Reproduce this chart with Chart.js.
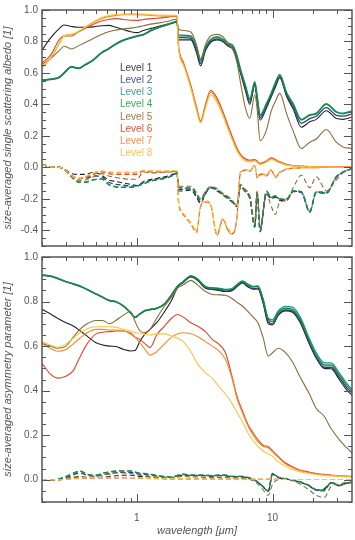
<!DOCTYPE html>
<html>
<head>
<meta charset="utf-8">
<script src="https://cdn.jsdelivr.net/npm/chart.js@4.4.0/dist/chart.umd.min.js"></script>
<style>
  body { margin: 0; width: 355px; height: 540px; background: #fff; position: relative; overflow: hidden; }
  .box { position: absolute; left: 0; width: 355px; }
  #legend { position: absolute; left: 120px; top: 62px; font: 10px "Liberation Sans", Arial, sans-serif; line-height: 12.15px; }
</style>
</head>
<body>
<div class="box" style="top:0;height:256px"><canvas id="albedo"></canvas></div>
<div class="box" style="top:246px;height:294px"><canvas id="asym"></canvas></div>
<div id="legend"></div>
<script>
// levels and colours
const levels = ['Level 1', 'Level 2', 'Level 3', 'Level 4', 'Level 5', 'Level 6', 'Level 7', 'Level 8'];
const lineColors = ['#20232e', '#2c3d7a', '#1b9a8a', '#188a3e', '#8b6d3a', '#e0452a', '#f08c28', '#f7c63a'];
const textColors = ['#3c3c4a', '#4a5590', '#40a090', '#40a855', '#9c7c48', '#e0503c', '#ee9450', '#f5c450'];

// axis ticks
const xTickVals = [0.2, 0.3, 0.4, 0.5, 0.6, 0.7, 0.8, 0.9, 1, 2, 3, 4, 5, 6, 7, 8, 9, 10, 20, 30];
const xLabelVals = [1, 10];
const yTopTicks = [-0.4, -0.2, 0, 0.2, 0.4, 0.6, 0.8, 1.0];
const yBotTicks = [0, 0.2, 0.4, 0.6, 0.8, 1.0];

// wavelengths [um], top panel
const wlTop = [0.2,0.23,0.27,0.29,0.33,0.37,0.42,0.48,0.55,0.62,
  0.7,0.8,0.9,1.0,1.12,1.3,1.5,1.7,1.9,1.98,
  2.02,2.2,2.5,2.75,2.95,3.2,3.5,3.9,4.3,4.7,
  5.1,5.45,5.8,6.3,6.8,7.4,7.7,8.1,9.0,9.8,
  10.5,11.3,12.7,14.2,16.3,18.8,21,24.9,29.5,33,
  38.5];

// single scattering albedo (solid)
const alb1 = [0.745,0.82,0.885,0.905,0.895,0.89,0.89,0.893,0.90,0.902,
  0.89,0.875,0.862,0.856,0.87,0.885,0.90,0.91,0.92,0.925,
  0.81,0.81,0.81,0.73,0.645,0.74,0.795,0.81,0.80,0.77,
  0.75,0.69,0.60,0.49,0.40,0.52,0.42,0.30,0.375,0.45,
  0.51,0.57,0.45,0.37,0.255,0.29,0.305,0.36,0.31,0.305,
  0.32];
const alb2 = [0.552,0.557,0.572,0.597,0.637,0.627,0.652,0.682,0.727,0.752,
  0.782,0.807,0.822,0.832,0.842,0.872,0.892,0.907,0.922,0.927,
  0.825,0.825,0.82,0.745,0.66,0.75,0.80,0.815,0.80,0.775,
  0.76,0.70,0.605,0.505,0.415,0.53,0.435,0.315,0.39,0.46,
  0.52,0.575,0.46,0.385,0.28,0.31,0.325,0.38,0.33,0.325,
  0.34];
const alb3 = [0.555,0.56,0.575,0.60,0.64,0.63,0.655,0.685,0.73,0.755,
  0.785,0.81,0.825,0.835,0.845,0.875,0.895,0.91,0.925,0.93,
  0.84,0.84,0.835,0.765,0.68,0.765,0.815,0.83,0.815,0.79,
  0.775,0.715,0.625,0.525,0.435,0.545,0.455,0.335,0.405,0.475,
  0.54,0.59,0.475,0.405,0.305,0.335,0.345,0.405,0.355,0.345,
  0.36];
const alb4 = [0.555,0.56,0.575,0.60,0.64,0.63,0.655,0.685,0.73,0.755,
  0.785,0.81,0.825,0.835,0.845,0.875,0.895,0.91,0.925,0.93,
  0.835,0.835,0.83,0.76,0.675,0.76,0.81,0.825,0.81,0.785,
  0.77,0.71,0.62,0.52,0.43,0.54,0.45,0.33,0.40,0.47,
  0.535,0.585,0.47,0.40,0.30,0.33,0.34,0.40,0.35,0.34,
  0.355];
const alb5 = [0.655,0.69,0.745,0.77,0.752,0.772,0.795,0.82,0.845,0.862,
  0.872,0.88,0.885,0.89,0.90,0.912,0.92,0.928,0.94,0.94,
  0.88,0.87,0.86,0.78,0.69,0.78,0.835,0.845,0.83,0.79,
  0.75,0.67,0.54,0.38,0.31,0.46,0.37,0.17,0.235,0.36,
  0.42,0.47,0.34,0.23,0.12,0.16,0.18,0.24,0.16,0.13,
  0.12];
const alb6 = [0.665,0.71,0.815,0.835,0.835,0.86,0.885,0.91,0.93,0.94,
  0.945,0.94,0.935,0.934,0.94,0.945,0.95,0.955,0.96,0.955,
  0.79,0.67,0.52,0.385,0.295,0.40,0.49,0.44,0.355,0.265,
  0.185,0.125,0.085,0.055,0.045,0.05,0.04,0.025,0.04,0.06,
  0.05,0.035,0.02,0.012,0.008,0.005,0.004,0.003,0.002,0.002,
  0.001];
const alb7 = [0.635,0.69,0.79,0.835,0.845,0.86,0.89,0.92,0.945,0.958,
  0.965,0.97,0.97,0.97,0.968,0.965,0.962,0.96,0.962,0.96,
  0.78,0.66,0.51,0.375,0.29,0.39,0.478,0.425,0.34,0.25,
  0.17,0.115,0.077,0.046,0.04,0.046,0.035,0.02,0.035,0.055,
  0.045,0.03,0.015,0.01,0.006,0.004,0.003,0.002,0.002,0.001,
  0.001];
const alb8 = [0.64,0.695,0.79,0.835,0.845,0.865,0.895,0.925,0.952,0.965,
  0.972,0.975,0.976,0.976,0.974,0.97,0.968,0.966,0.966,0.965,
  0.77,0.65,0.50,0.36,0.28,0.375,0.46,0.41,0.33,0.24,
  0.165,0.105,0.07,0.04,0.035,0.04,0.03,0.018,0.032,0.05,
  0.04,0.027,0.013,0.008,0.005,0.003,0.002,0.002,0.001,0.001,
  0.001];

// albedo dashed curves
const dAlb1 = [0.02,0.003,0.0,-0.01,-0.04,-0.045,-0.045,-0.03,-0.05,-0.08,
  -0.09,-0.10,-0.108,-0.115,-0.09,-0.075,-0.065,-0.055,-0.04,-0.035,
  -0.15,-0.15,-0.145,-0.19,-0.23,-0.17,-0.13,-0.15,-0.175,-0.20,
  -0.225,-0.25,-0.125,-0.155,-0.20,-0.38,-0.17,-0.41,-0.17,-0.20,
  -0.19,-0.21,-0.21,-0.155,-0.16,-0.285,-0.16,-0.165,-0.065,-0.032,
  -0.008];
const dAlb2 = [0.02,0.003,0.0,-0.01,-0.05,-0.07,-0.07,-0.055,-0.06,-0.095,
  -0.108,-0.114,-0.118,-0.118,-0.098,-0.08,-0.07,-0.06,-0.042,-0.035,
  -0.14,-0.14,-0.138,-0.18,-0.22,-0.165,-0.128,-0.145,-0.172,-0.195,
  -0.222,-0.248,-0.12,-0.152,-0.195,-0.375,-0.165,-0.405,-0.165,-0.195,
  -0.185,-0.205,-0.205,-0.152,-0.158,-0.282,-0.158,-0.162,-0.062,-0.031,
  -0.008];
const dAlb3 = [0.02,0.003,0.0,-0.01,-0.058,-0.092,-0.092,-0.078,-0.073,-0.108,
  -0.123,-0.126,-0.126,-0.119,-0.103,-0.084,-0.074,-0.064,-0.044,-0.035,
  -0.128,-0.132,-0.132,-0.172,-0.212,-0.162,-0.126,-0.142,-0.171,-0.191,
  -0.221,-0.246,-0.117,-0.151,-0.192,-0.372,-0.162,-0.402,-0.155,-0.19,
  -0.182,-0.202,-0.202,-0.15,-0.156,-0.28,-0.156,-0.16,-0.06,-0.03,
  -0.008];
const dAlb4 = [0.02,0.003,0.0,-0.01,-0.06,-0.095,-0.095,-0.08,-0.075,-0.11,
  -0.125,-0.128,-0.128,-0.12,-0.105,-0.085,-0.075,-0.065,-0.045,-0.035,
  -0.125,-0.13,-0.13,-0.17,-0.21,-0.16,-0.125,-0.14,-0.17,-0.19,
  -0.22,-0.245,-0.115,-0.15,-0.19,-0.37,-0.16,-0.40,-0.15,-0.19,
  -0.18,-0.20,-0.20,-0.15,-0.155,-0.28,-0.155,-0.16,-0.06,-0.03,
  -0.008];
const dAlb5 = [0.02,0.003,0.0,-0.01,-0.06,-0.085,-0.08,-0.06,-0.04,-0.055,
  -0.065,-0.072,-0.076,-0.075,-0.03,-0.035,-0.032,-0.03,-0.03,-0.03,
  -0.12,-0.12,-0.12,-0.16,-0.20,-0.15,-0.12,-0.135,-0.165,-0.185,
  -0.215,-0.24,-0.11,-0.14,-0.18,-0.35,-0.15,-0.38,-0.17,-0.25,
  -0.30,-0.22,-0.21,-0.13,-0.05,-0.13,-0.06,-0.15,-0.08,-0.035,
  -0.008];
const dAlb6 = [0.02,0.003,0.0,-0.01,-0.055,-0.075,-0.065,-0.045,-0.03,-0.04,
  -0.045,-0.045,-0.045,-0.045,-0.025,-0.03,-0.03,-0.03,-0.025,-0.028,
  -0.21,-0.30,-0.36,-0.41,-0.25,-0.22,-0.24,-0.43,-0.33,-0.40,
  -0.42,-0.33,-0.035,-0.02,-0.025,0.01,-0.07,-0.045,-0.055,-0.02,
  -0.065,-0.035,-0.012,-0.006,-0.003,-0.002,-0.002,-0.001,-0.001,0.0,
  0.0];
const dAlb7 = [0.02,0.003,0.0,-0.01,-0.055,-0.075,-0.06,-0.04,-0.025,-0.032,
  -0.035,-0.035,-0.035,-0.035,-0.02,-0.025,-0.025,-0.025,-0.022,-0.025,
  -0.20,-0.30,-0.36,-0.415,-0.25,-0.22,-0.24,-0.435,-0.33,-0.405,
  -0.425,-0.33,-0.03,-0.015,-0.02,0.015,-0.065,-0.04,-0.05,-0.015,
  -0.06,-0.03,-0.01,-0.005,-0.003,-0.002,-0.002,-0.001,-0.001,0.0,
  0.0];
const dAlb8 = [0.02,0.003,0.0,-0.01,-0.05,-0.07,-0.055,-0.035,-0.022,-0.028,
  -0.03,-0.03,-0.03,-0.03,-0.018,-0.022,-0.022,-0.022,-0.02,-0.022,
  -0.19,-0.29,-0.35,-0.40,-0.24,-0.21,-0.23,-0.42,-0.32,-0.39,
  -0.41,-0.32,-0.025,-0.012,-0.018,0.012,-0.06,-0.035,-0.045,-0.012,
  -0.055,-0.028,-0.009,-0.004,-0.003,-0.002,-0.001,-0.001,0.0,0.0,
  0.0];

// wavelengths [um], bottom panel
const wlBot = [0.2,0.23,0.26,0.3,0.34,0.38,0.43,0.5,0.56,0.63,
  0.7,0.8,0.9,0.97,1.05,1.15,1.25,1.4,1.6,1.8,
  2.0,2.2,2.5,2.8,3.2,3.6,4.0,4.5,5.0,5.5,
  6.0,6.6,7.2,7.8,8.5,9.3,10,11,12.5,14,
  16,18.5,21,24,27,31,35,38.5];

// asymmetry parameter (solid)
const asy1 = [0.765,0.745,0.725,0.705,0.69,0.67,0.645,0.615,0.605,0.60,
  0.598,0.585,0.578,0.58,0.62,0.655,0.675,0.705,0.755,0.805,
  0.865,0.885,0.91,0.895,0.86,0.854,0.85,0.845,0.848,0.868,
  0.883,0.865,0.855,0.856,0.795,0.70,0.695,0.738,0.758,0.752,
  0.705,0.615,0.545,0.50,0.498,0.45,0.405,0.38];
const asy2 = [0.918,0.913,0.903,0.888,0.878,0.868,0.853,0.833,0.818,0.803,
  0.798,0.778,0.748,0.728,0.743,0.758,0.763,0.768,0.788,0.828,
  0.868,0.888,0.912,0.897,0.862,0.856,0.853,0.847,0.85,0.87,
  0.885,0.868,0.858,0.86,0.80,0.71,0.70,0.742,0.762,0.757,
  0.71,0.62,0.55,0.505,0.505,0.46,0.415,0.39];
const asy3 = [0.92,0.915,0.905,0.89,0.88,0.87,0.855,0.835,0.82,0.805,
  0.80,0.78,0.75,0.73,0.745,0.76,0.765,0.77,0.79,0.83,
  0.87,0.89,0.915,0.902,0.868,0.862,0.86,0.855,0.858,0.878,
  0.893,0.878,0.868,0.87,0.815,0.725,0.718,0.758,0.778,0.775,
  0.73,0.64,0.57,0.525,0.525,0.48,0.435,0.405];
const asy4 = [0.92,0.915,0.905,0.89,0.88,0.87,0.855,0.835,0.82,0.805,
  0.80,0.78,0.75,0.73,0.745,0.76,0.765,0.77,0.79,0.83,
  0.87,0.89,0.915,0.90,0.866,0.86,0.858,0.852,0.855,0.875,
  0.89,0.875,0.865,0.868,0.81,0.72,0.71,0.75,0.77,0.765,
  0.72,0.63,0.56,0.515,0.515,0.47,0.425,0.40];
const asy5 = [0.613,0.60,0.59,0.60,0.64,0.675,0.70,0.715,0.715,0.70,
  0.715,0.74,0.755,0.71,0.67,0.66,0.675,0.725,0.78,0.82,
  0.86,0.875,0.895,0.875,0.845,0.832,0.83,0.828,0.815,0.795,
  0.78,0.755,0.73,0.705,0.64,0.555,0.57,0.59,0.57,0.53,
  0.46,0.39,0.32,0.285,0.23,0.18,0.145,0.12];
const asy6 = [0.523,0.475,0.456,0.465,0.49,0.55,0.61,0.655,0.662,0.665,
  0.668,0.668,0.655,0.64,0.63,0.61,0.593,0.65,0.69,0.725,
  0.742,0.73,0.705,0.69,0.665,0.63,0.61,0.57,0.47,0.37,
  0.31,0.247,0.21,0.18,0.155,0.148,0.13,0.105,0.075,0.058,
  0.043,0.035,0.028,0.024,0.021,0.018,0.016,0.015];
const asy7 = [0.61,0.59,0.577,0.585,0.61,0.635,0.66,0.675,0.675,0.672,
  0.672,0.668,0.66,0.64,0.615,0.585,0.56,0.575,0.61,0.64,
  0.655,0.66,0.655,0.643,0.62,0.60,0.58,0.54,0.46,0.36,
  0.30,0.24,0.20,0.17,0.15,0.142,0.125,0.10,0.07,0.054,
  0.04,0.032,0.026,0.022,0.019,0.017,0.015,0.014];
const asy8 = [0.62,0.605,0.595,0.61,0.635,0.66,0.678,0.687,0.687,0.687,
  0.685,0.675,0.668,0.66,0.658,0.652,0.65,0.655,0.655,0.645,
  0.635,0.62,0.575,0.52,0.48,0.455,0.42,0.385,0.345,0.30,
  0.26,0.21,0.175,0.15,0.13,0.115,0.105,0.08,0.06,0.046,
  0.035,0.028,0.023,0.019,0.017,0.015,0.013,0.012];

// asymmetry dashed curves
const dAsy1 = [0.0,0.0,0.0,0.005,0.01,0.012,0.01,0.01,0.012,0.015,
  0.018,0.02,0.02,0.018,0.015,0.015,0.012,0.01,0.008,0.008,
  0.015,0.02,0.018,0.018,0.018,0.016,0.018,0.018,0.013,0.013,
  0.012,0.008,0.0,-0.012,-0.032,-0.052,0.025,0.01,0.003,-0.002,
  -0.012,-0.027,-0.047,-0.04,-0.014,-0.027,-0.016,-0.013];
const dAsy2 = [0.0,0.0,0.001,0.01,0.022,0.03,0.02,0.016,0.024,0.028,
  0.032,0.033,0.033,0.03,0.025,0.024,0.021,0.017,0.013,0.011,
  0.018,0.023,0.019,0.019,0.019,0.017,0.019,0.019,0.014,0.014,
  0.014,0.009,0.001,-0.011,-0.031,-0.051,0.027,0.011,0.004,-0.001,
  -0.011,-0.026,-0.046,-0.045,-0.013,-0.026,-0.015,-0.012];
const dAsy3 = [0.0,0.0,0.002,0.014,0.028,0.038,0.024,0.019,0.029,0.034,
  0.038,0.039,0.039,0.034,0.029,0.027,0.024,0.019,0.014,0.012,
  0.02,0.025,0.02,0.02,0.02,0.018,0.02,0.02,0.015,0.015,
  0.015,0.01,0.002,-0.01,-0.03,-0.05,0.028,0.012,0.005,0.0,
  -0.01,-0.025,-0.045,-0.048,-0.012,-0.025,-0.015,-0.012];
const dAsy4 = [0.0,0.0,0.002,0.015,0.03,0.04,0.025,0.02,0.03,0.035,
  0.04,0.04,0.04,0.035,0.03,0.028,0.025,0.02,0.015,0.012,
  0.02,0.025,0.02,0.02,0.02,0.018,0.02,0.02,0.015,0.015,
  0.015,0.01,0.002,-0.01,-0.03,-0.05,0.028,0.012,0.005,0.0,
  -0.01,-0.025,-0.045,-0.05,-0.012,-0.025,-0.015,-0.012];
const dAsy5 = [0.0,0.0,0.0,0.005,0.012,0.015,0.012,0.015,0.02,0.025,
  0.03,0.03,0.028,0.025,0.02,0.018,0.015,0.012,0.01,0.01,
  0.012,0.015,0.012,0.012,0.01,0.01,0.01,0.01,0.008,0.008,
  0.006,0.003,-0.005,-0.02,-0.045,-0.07,-0.02,0.0,0.002,-0.005,
  -0.02,-0.045,-0.07,-0.08,-0.03,-0.02,-0.012,-0.01];
const dAsy6 = [0.0,0.0,0.0,0.002,0.004,0.006,0.007,0.008,0.008,0.008,
  0.008,0.008,0.008,0.007,0.006,0.006,0.005,0.005,0.004,0.004,
  0.004,0.004,0.004,0.004,0.003,0.003,0.003,0.003,0.003,0.003,
  0.002,0.002,0.002,0.002,0.002,0.002,0.002,0.002,0.001,0.001,
  0.001,0.001,0.001,0.001,0.001,0.001,0.001,0.001];
const dAsy7 = [0.0,0.0,0.0,0.002,0.005,0.007,0.008,0.01,0.01,0.01,
  0.01,0.01,0.01,0.009,0.008,0.007,0.006,0.006,0.005,0.005,
  0.005,0.005,0.005,0.004,0.004,0.004,0.003,0.003,0.003,0.003,
  0.003,0.002,0.002,0.002,0.002,0.002,0.002,0.002,0.002,0.001,
  0.001,0.001,0.001,0.001,0.001,0.001,0.001,0.001];
const dAsy8 = [0.0,0.0,0.0,0.002,0.005,0.008,0.009,0.011,0.011,0.011,
  0.011,0.011,0.01,0.009,0.008,0.007,0.006,0.006,0.005,0.005,
  0.005,0.005,0.004,0.004,0.004,0.003,0.003,0.003,0.003,0.002,
  0.002,0.002,0.002,0.002,0.002,0.002,0.002,0.001,0.001,0.001,
  0.001,0.001,0.001,0.001,0.001,0.001,0.001,0.001];

Chart.defaults.font.family = '"Liberation Sans", Arial, sans-serif';
Chart.defaults.color = '#555';

function range(a, b, step) {
  const out = [];
  for (let v = a; v <= b + 1e-9; v += step) out.push(Math.round(v * 1000) / 1000);
  return out;
}

function makeSets(wl, solid, dashed) {
  const sets = [];
  dashed.forEach((s, i) => sets.push({
    label: levels[i] + ' dashed',
    data: wl.map((x, j) => ({ x: x, y: s[j] })),
    borderColor: lineColors[i],
    borderWidth: (i >= 1 && i <= 3) ? 1.3 : 1.1,
    borderDash: [5, 3],
    pointRadius: 0,
    order: 30 - i
  }));
  solid.forEach((s, i) => sets.push({
    label: levels[i],
    data: wl.map((x, j) => ({ x: x, y: s[j] })),
    borderColor: lineColors[i],
    borderWidth: (i >= 1 && i <= 3) ? 1.3 : 1.1,
    pointRadius: 0,
    order: 20 - i
  }));
  return sets;
}

// frame with inward ticks on all four sides
const boxTicks = {
  id: 'boxTicks',
  afterDatasetsDraw(chart, args, o) {
    const { ctx, chartArea: a } = chart;
    const xs = chart.scales.x, ys = chart.scales.y;
    ctx.save();
    ctx.strokeStyle = '#555';
    ctx.lineWidth = 1;
    ctx.beginPath();
    xTickVals.forEach(v => {
      const p = Math.round(xs.getPixelForValue(v)) + 0.5;
      const len = xLabelVals.includes(v) ? 8 : 4;
      ctx.moveTo(p, a.bottom); ctx.lineTo(p, a.bottom - len);
      ctx.moveTo(p, a.top); ctx.lineTo(p, a.top + len);
    });
    o.yMinor.forEach(v => {
      const p = Math.round(ys.getPixelForValue(v)) + 0.5;
      const len = o.yMajor.some(m => Math.abs(m - v) < 1e-6) ? 8 : 4;
      ctx.moveTo(a.left, p); ctx.lineTo(a.left + len, p);
      ctx.moveTo(a.right, p); ctx.lineTo(a.right - len, p);
    });
    ctx.stroke();
    ctx.lineWidth = 1.5;
    ctx.strokeRect(a.left, a.top, a.right - a.left, a.bottom - a.top);
    ctx.restore();
  }
};

function yAxis(min, max, ticks, title) {
  return {
    type: 'linear', min: min, max: max,
    grid: { display: false, drawTicks: false },
    border: { display: false },
    afterBuildTicks: s => { s.ticks = ticks.map(v => ({ value: v })); },
    afterFit: s => { s.width = 42; },
    ticks: { padding: 4, font: { size: 10 }, color: '#555', callback: v => Number(v).toFixed(1) },
    title: { display: true, text: title, color: '#555', font: { size: 11, style: 'italic' }, padding: { top: 1, bottom: 0 } }
  };
}

new Chart(document.getElementById('albedo'), {
  type: 'line',
  data: {
    datasets: makeSets(wlTop,
      [alb1, alb2, alb3, alb4, alb5, alb6, alb7, alb8],
      [dAlb1, dAlb2, dAlb3, dAlb4, dAlb5, dAlb6, dAlb7, dAlb8])
  },
  options: {
    responsive: true, maintainAspectRatio: false, animation: false,
    layout: { padding: { top: 10, bottom: 2, left: 0, right: 3 } },
    elements: { line: { tension: 0, cubicInterpolationMode: 'monotone' } },
    plugins: {
      legend: { display: false }, tooltip: { enabled: false },
      boxTicks: { yMajor: yTopTicks, yMinor: range(-0.5, 1.0, 0.05) }
    },
    scales: {
      x: { type: 'logarithmic', min: 0.2, max: 38.5, display: false,
           afterBuildTicks: s => { s.ticks = xTickVals.map(v => ({ value: v })); } },
      y: yAxis(-0.5, 1.0, yTopTicks, 'size-averaged single scattering albedo [1]')
    }
  },
  plugins: [boxTicks]
});

new Chart(document.getElementById('asym'), {
  type: 'line',
  data: {
    datasets: makeSets(wlBot,
      [asy1, asy2, asy3, asy4, asy5, asy6, asy7, asy8],
      [dAsy1, dAsy2, dAsy3, dAsy4, dAsy5, dAsy6, dAsy7, dAsy8])
  },
  options: {
    responsive: true, maintainAspectRatio: false, animation: false,
    layout: { padding: { top: 11, bottom: 0, left: 0, right: 3 } },
    elements: { line: { tension: 0, cubicInterpolationMode: 'monotone' } },
    plugins: {
      legend: { display: false }, tooltip: { enabled: false },
      boxTicks: { yMajor: yBotTicks, yMinor: range(-0.1, 1.0, 0.05) }
    },
    scales: {
      x: {
        type: 'logarithmic', min: 0.2, max: 38.5,
        grid: { display: false, drawTicks: false },
        border: { display: false },
        afterBuildTicks: s => { s.ticks = xTickVals.map(v => ({ value: v })); },
        afterFit: s => { s.height = 38; },
        ticks: { autoSkip: false, maxRotation: 0, padding: 10, font: { size: 10 }, color: '#555',
                 callback: v => xLabelVals.includes(Number(v)) ? String(v) : '' },
        title: { display: true, text: 'wavelength [\u03bcm]', color: '#555', font: { size: 11, style: 'italic' }, padding: { top: 0, bottom: 2 } }
      },
      y: yAxis(-0.1, 1.0, yBotTicks, 'size-averaged asymmetry parameter [1]')
    }
  },
  plugins: [boxTicks]
});

// legend as plain coloured text
const legend = document.getElementById('legend');
levels.forEach((name, i) => {
  const d = document.createElement('div');
  d.textContent = name;
  d.style.color = textColors[i];
  legend.appendChild(d);
});
</script>
</body>
</html>
